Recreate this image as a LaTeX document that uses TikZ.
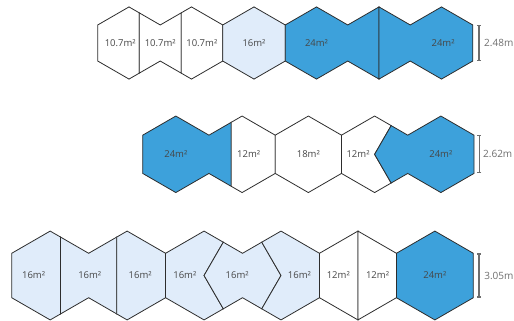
\documentclass[tikz,border=0pt]{standalone}
\usepackage{fontspec}
\setmainfont{Open Sans}
\usetikzlibrary{arrows.meta}

\begin{document}
\begin{tikzpicture}[x=1pt,y=-1pt,
  room/.style={draw=lineC,line width=0.8pt,line join=miter},
  lbl/.style={text=txtC,font=\fontsize{9.5}{11}\selectfont,inner sep=0pt},
  dimbar/.style={draw=dimC,line width=1.3pt,{Bar[width=4pt]}-{Bar[width=4pt]}},
  dimlbl/.style={text=dimC,font=\fontsize{10}{12}\selectfont,anchor=west,inner sep=0pt}]
\definecolor{lineC}{RGB}{45,45,45}\definecolor{txtC}{RGB}{70,70,70}\definecolor{dimC}{RGB}{110,110,110}
\definecolor{cBlue}{RGB}{61,161,219}\definecolor{cPale}{RGB}{224,236,250}
\useasboundingbox (0,0) rectangle (514,321);
% fila 1: 2.48m
\begin{scope}[shift={(97.75,43)},x=31.25pt,y=18.04pt]
\filldraw[room,fill=white] (0,-1)--(0,1)--(1,2)--(1.33,1.67)--(1.33,-1.67)--(1,-2)--cycle;
\filldraw[room,fill=white] (1.33,1.67)--(2,1)--(2.67,1.67)--(2.67,-1.67)--(2,-1)--(1.33,-1.67)--cycle;
\filldraw[room,fill=white] (2.67,1.67)--(3,2)--(4,1)--(4,-1)--(3,-2)--(2.67,-1.67)--cycle;
\filldraw[room,fill=cPale] (4,1)--(5,2)--(6,1)--(6,-1)--(5,-2)--(4,-1)--cycle;
\filldraw[room,fill=cBlue] (6,1)--(7,2)--(8,1)--(9,2)--(9,-2)--(8,-1)--(7,-2)--(6,-1)--cycle;
\filldraw[room,fill=cBlue] (9,2)--(10,1)--(11,2)--(12,1)--(12,-1)--(11,-2)--(10,-1)--(9,-2)--cycle;
\node[lbl] (a1) at (0.72,0) {10.7m²};
\node[lbl] (a2) at (2,0) {10.7m²};
\node[lbl] (a3) at (3.33,0) {10.7m²};
\node[lbl] (a4) at (5,0) {16m²};
\node[lbl] (a5) at (7,0) {24m²};
\node[lbl] (a6) at (11.05,0) {24m²};
\coordinate (da1) at (12.2,1); \coordinate (da2) at (12.2,-1);
\draw[dimbar] (da1)--(da2);
\node[dimlbl] (da) at (12.36,0) {2.48m};
\end{scope}
% fila 2: 2.62m
\begin{scope}[shift={(142.7,154.3)},x=33.13pt,y=19.13pt]
\filldraw[room,fill=cBlue] (0,-1)--(0,1)--(1,2)--(2,1)--(2.67,1.67)--(2.67,-1.67)--(2,-1)--(1,-2)--cycle;
\filldraw[room,fill=white] (2.67,1.67)--(3,2)--(4,1)--(4,-1)--(3,-2)--(2.67,-1.67)--cycle;
\filldraw[room,fill=white] (4,1)--(5,2)--(6,1)--(6,-1)--(5,-2)--(4,-1)--cycle;
\filldraw[room,fill=white] (6,1)--(7,2)--(7.5,1.5)--(7,0)--(7.5,-1.5)--(7,-2)--(6,-1)--cycle;
\filldraw[room,fill=cBlue] (7.5,1.5)--(8,1)--(9,2)--(10,1)--(10,-1)--(9,-2)--(8,-1)--(7.5,-1.5)--(7,0)--cycle;
\node[lbl] (b1) at (1,0) {24m²};
\node[lbl] (b2) at (3.2,0) {12m²};
\node[lbl] (b3) at (5,0) {18m²};
\node[lbl] (b4) at (6.5,0) {12m²};
\node[lbl] (b5) at (9,0) {24m²};
\coordinate (db1) at (10.16,1); \coordinate (db2) at (10.16,-1);
\draw[dimbar] (db1)--(db2);
\node[dimlbl] (db) at (10.27,0) {2.62m};
\end{scope}
% fila 3: 3.05m
\begin{scope}[shift={(11.7,275.5)},x=38.47pt,y=22.21pt]
\filldraw[room,fill=cPale] (0,-1)--(0,1)--(1,2)--(1.27,1.73)--(1.27,-1.73)--(1,-2)--cycle;
\filldraw[room,fill=cPale] (1.27,1.73)--(2,1)--(2.73,1.73)--(2.73,-1.73)--(2,-1)--(1.27,-1.73)--cycle;
\filldraw[room,fill=cPale] (2.73,1.73)--(3,2)--(4,1)--(4,-1)--(3,-2)--(2.73,-1.73)--cycle;
\filldraw[room,fill=cPale] (4,1)--(5,2)--(5.5,1.5)--(5,0)--(5.5,-1.5)--(5,-2)--(4,-1)--cycle;
\filldraw[room,fill=cPale] (5.5,1.5)--(6,1)--(6.5,1.5)--(7,0)--(6.5,-1.5)--(6,-1)--(5.5,-1.5)--(5,0)--cycle;
\filldraw[room,fill=cPale] (6.5,1.5)--(7,2)--(8,1)--(8,-1)--(7,-2)--(6.5,-1.5)--(7,0)--cycle;
\filldraw[room,fill=white] (8,1)--(9,2)--(9,-2)--(8,-1)--cycle;
\filldraw[room,fill=white] (9,2)--(10,1)--(10,-1)--(9,-2)--cycle;
\filldraw[room,fill=cBlue] (10,1)--(11,2)--(12,1)--(12,-1)--(11,-2)--(10,-1)--cycle;
\node[lbl] (c1) at (0.57,0) {16m²};
\node[lbl] (c2) at (2.03,0) {16m²};
\node[lbl] (c3) at (3.34,0) {16m²};
\node[lbl] (c4) at (4.5,0) {16m²};
\node[lbl] (c5) at (5.86,0) {16m²};
\node[lbl] (c6) at (7.48,0) {16m²};
\node[lbl] (c7) at (8.49,0) {12m²};
\node[lbl] (c8) at (9.51,0) {12m²};
\node[lbl] (c9) at (11,0) {24m²};
\coordinate (dc1) at (12.15,1); \coordinate (dc2) at (12.15,-1);
\draw[dimbar] (dc1)--(dc2);
\node[dimlbl] (dc) at (12.28,0) {3.05m};
\end{scope}
\end{tikzpicture}
\end{document}
